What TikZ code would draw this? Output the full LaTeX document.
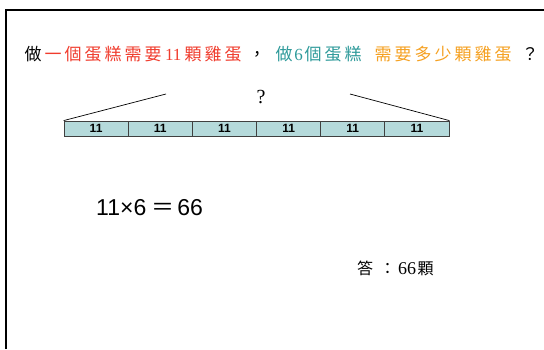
\documentclass[tikz,border=0pt]{standalone}
\usepackage{fontspec}
\setmainfont{Liberation Serif}
\setsansfont{Liberation Sans}
\newfontfamily\cjk{Noto Sans CJK TC}
\definecolor{tred}{HTML}{F03C2D}
\definecolor{tteal}{HTML}{2E9A9A}
\definecolor{torange}{HTML}{F5A020}
\definecolor{cellfill}{HTML}{B5DADB}
\newcommand\cc[1]{\makebox[20pt][c]{#1}}
\tikzset{
  cell/.style={draw=black!75, fill=cellfill, line width=0.8pt, minimum width=64.17pt, minimum height=15pt, inner sep=0pt, font=\sffamily\bfseries\fontsize{12}{12}\selectfont},
  frame/.style={line width=2pt},
  guide/.style={line width=0.7pt},
  txt/.style={inner sep=0pt, anchor=west}
}
\begin{document}
\begin{tikzpicture}[x=1pt,y=-1pt]
\useasboundingbox (0,0) rectangle (544,349);
\draw[frame] (5.5,349) -- (5.5,9.5) -- (544,9.5);
\node[txt, font=\cjk\fontsize{17}{18}\selectfont] (title) at (23,54)
  {\cc{做}\textcolor{tred}{\cc{一}\cc{個}\cc{蛋}\cc{糕}\cc{需}\cc{要}\cc{\rmfamily 11}\cc{顆}\cc{雞}\cc{蛋}}%
   \hspace{4pt}\cc{，}\hspace{7pt}%
   \textcolor{tteal}{\cc{做}\makebox[9pt][c]{\rmfamily 6}\cc{個}\cc{蛋}\cc{糕}}%
   \hspace{10pt}%
   \textcolor{torange}{\cc{需}\cc{要}\cc{多}\cc{少}\cc{顆}\cc{雞}\cc{蛋}}%
   \hspace{7pt}\cc{？}};
\foreach \i in {1,...,6}{
  \node[cell] (c\i) at ({64+64.17*(\i-0.5)},128.5) {11};
}
\coordinate (l1) at (166,94);
\coordinate (r1) at (350,94);
\draw[guide] (c1.north west) -- (l1);
\draw[guide] (c6.north east) -- (r1);
\node[font=\fontsize{20}{20}\selectfont, inner sep=0pt] (q) at (261,97) {?};
\node[txt, font=\sffamily\fontsize{23}{23}\selectfont] (eq) at (96,208)
  {11×6\hspace{5pt}{\cjk ＝}\hspace{3pt}66};
\node[txt, font=\cjk\fontsize{16}{16}\selectfont] (ans) at (357,268)
  {\makebox[16pt][c]{答}\hspace{4pt}\makebox[21pt][c]{：}{\rmfamily\fontsize{18}{18}\selectfont 66}\hspace{1pt}\makebox[17pt][c]{顆}};
\end{tikzpicture}
\end{document}
